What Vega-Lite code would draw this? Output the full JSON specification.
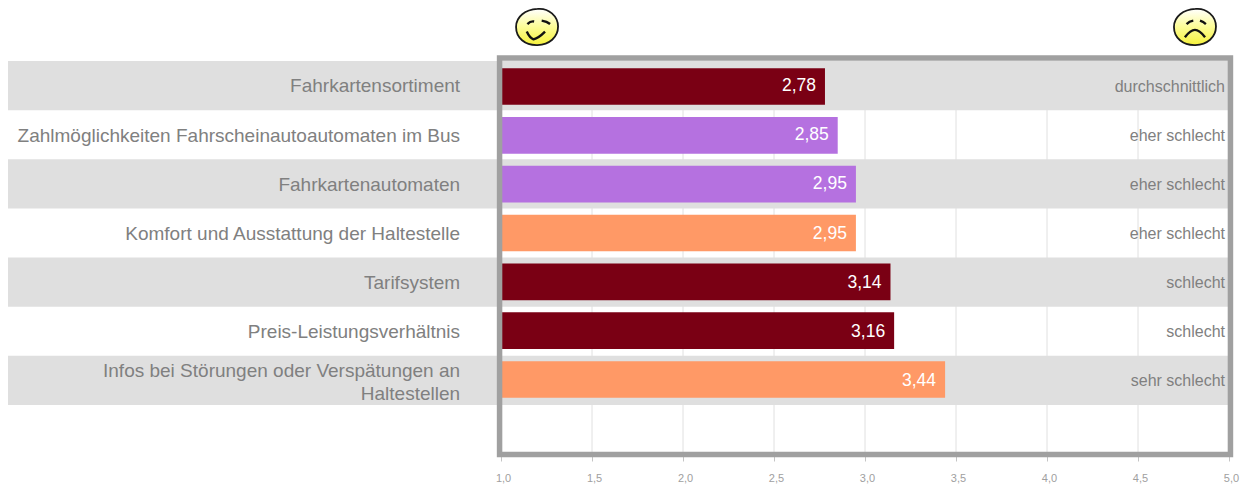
{
"$schema":"https://vega.github.io/schema/vega-lite/v6.json",
"width":1221,"height":442,
"autosize":{"type":"none"},
"padding":{"left":8,"top":12,"right":17,"bottom":32},
"background":"white",
"config":{"view":{"stroke":null},"font":"Liberation Sans","locale":{"number":{"decimal":",","thousands":".","grouping":[3],"currency":["","€"]}}},
"datasets":{
"rows":[
{"label":"Fahrkartensortiment","value":2.78,"group":"A","verdict":"durchschnittlich","striped":true,"lines":1},
{"label":"Zahlmöglichkeiten Fahrscheinautoautomaten im Bus","value":2.85,"group":"B","verdict":"eher schlecht","striped":false,"lines":1},
{"label":"Fahrkartenautomaten","value":2.95,"group":"B","verdict":"eher schlecht","striped":true,"lines":1},
{"label":"Komfort und Ausstattung der Haltestelle","value":2.95,"group":"C","verdict":"eher schlecht","striped":false,"lines":1},
{"label":"Tarifsystem","value":3.14,"group":"A","verdict":"schlecht","striped":true,"lines":1},
{"label":"Preis-Leistungsverhältnis","value":3.16,"group":"A","verdict":"schlecht","striped":false,"lines":1},
{"label":"Infos bei Störungen oder Verspätungen an\nHaltestellen","value":3.44,"group":"C","verdict":"sehr schlecht","striped":true,"lines":2}
],
"ticks":[{"tick":1},{"tick":1.5},{"tick":2},{"tick":2.5},{"tick":3},{"tick":3.5},{"tick":4},{"tick":4.5},{"tick":5}],
"faces":[{"mood":"gut","pos":1.198,"row":0.305},{"mood":"schlecht","pos":4.813,"row":0.305}]
},
"resolve":{"scale":{"y":"independent"}},
"layer":[
{"data":{"name":"ticks"},"mark":{"type":"rule","color":"#e0e0e0","strokeWidth":1},
 "encoding":{
  "x":{"field":"tick","type":"quantitative","title":null,
   "scale":{"domain":[-1.709,5],"nice":false,"zero":false},
   "axis":{"values":[1,1.5,2,2.5,3,3.5,4,4.5,5],"format":".1f","grid":false,"domain":false,"tickColor":"#c4c4c4","tickSize":7,"labelColor":"#a0a0a0","labelFontSize":11,"labelPadding":11,"labelOffset":2,"labelFont":"Liberation Sans","labelFlush":false,"labelOverlap":false}},
  "y":{"datum":1,"type":"quantitative","scale":{"domain":[0,9],"reverse":true,"nice":false,"zero":false},"axis":null},
  "y2":{"datum":9}
 }},
{"data":{"name":"rows"},"transform":[{"filter":"datum.striped"}],"mark":{"type":"rect","color":"#dfdfdf"},
 "encoding":{"y":{"field":"label","type":"nominal","axis":null,"sort":null,
   "scale":{"domain":[" ","Fahrkartensortiment","Zahlmöglichkeiten Fahrscheinautoautomaten im Bus","Fahrkartenautomaten","Komfort und Ausstattung der Haltestelle","Tarifsystem","Preis-Leistungsverhältnis","Infos bei Störungen oder Verspätungen an\nHaltestellen","  "],"paddingInner":0,"paddingOuter":0}},
  "x":{"datum":-1.709,"type":"quantitative","title":null},"x2":{"datum":5}}},
{"data":{"name":"rows"},"mark":{"type":"bar","size":36.7},
 "encoding":{"y":{"field":"label","type":"nominal","axis":null,"sort":null,
   "scale":{"domain":[" ","Fahrkartensortiment","Zahlmöglichkeiten Fahrscheinautoautomaten im Bus","Fahrkartenautomaten","Komfort und Ausstattung der Haltestelle","Tarifsystem","Preis-Leistungsverhältnis","Infos bei Störungen oder Verspätungen an\nHaltestellen","  "],"paddingInner":0,"paddingOuter":0.026}},
  "x":{"field":"value","type":"quantitative","title":null},"x2":{"datum":1},
  "color":{"field":"group","type":"nominal","legend":null,"scale":{"domain":["A","B","C"],"range":["#7a0014","#b571e0","#ff9966"]}}}},
{"data":{"name":"rows"},
 "encoding":{"y":{"field":"label","type":"nominal","axis":null,"sort":null,
   "scale":{"domain":[" ","Fahrkartensortiment","Zahlmöglichkeiten Fahrscheinautoautomaten im Bus","Fahrkartenautomaten","Komfort und Ausstattung der Haltestelle","Tarifsystem","Preis-Leistungsverhältnis","Infos bei Störungen oder Verspätungen an\nHaltestellen","  "],"paddingInner":0,"paddingOuter":0}}},
 "layer":[
 {"mark":{"type":"text","align":"right","baseline":"middle","dx":-9,"dy":0.5,"color":"white","fontSize":17.5,"font":"Liberation Sans"},
  "encoding":{"x":{"field":"value","type":"quantitative","title":null},"text":{"field":"value","type":"quantitative","format":".2f"}}},
 {"transform":[{"filter":"datum.lines===1"}],"mark":{"type":"text","align":"right","baseline":"middle","dy":0.8,"color":"#808080","fontSize":19,"font":"Liberation Sans"},
  "encoding":{"x":{"datum":0.775,"type":"quantitative","title":null},"text":{"field":"label"}}},
 {"transform":[{"filter":"datum.lines===2"}],"mark":{"type":"text","align":"right","baseline":"middle","dy":-9.8,"color":"#808080","fontSize":19,"lineBreak":"\n","lineHeight":23,"font":"Liberation Sans"},
  "encoding":{"x":{"datum":0.775,"type":"quantitative","title":null},"text":{"field":"label"}}},
 {"mark":{"type":"text","align":"right","baseline":"middle","dy":1,"color":"#808080","fontSize":16,"font":"Liberation Sans"},
  "encoding":{"x":{"datum":4.978,"type":"quantitative","title":null},"text":{"field":"verdict"}}}
 ]},
{"data":{"values":[{"left":0.992,"right":5.008,"top":0.937,"bottom":9.01}]},
 "mark":{"type":"rect","fill":null,"fillOpacity":0,"stroke":"#a0a0a0","strokeWidth":5.5},
 "encoding":{"x":{"field":"left","type":"quantitative","title":null},"x2":{"field":"right"},
  "y":{"field":"top","type":"quantitative","axis":null,"scale":{"domain":[0,9],"reverse":true,"nice":false,"zero":false}},"y2":{"field":"bottom"}}},
{"data":{"name":"faces"},
 "layer":[
 {"mark":{"type":"point","filled":true,"size":1764,"opacity":1,"shape":"M0.02,-0.86 C0.55,-0.92 1,-0.52 1,-0.02 C1,0.5 0.58,0.84 0.02,0.86 C-0.58,0.88 -1,0.52 -1,0 C-1,-0.52 -0.55,-0.82 0.02,-0.86Z",
   "fill":{"x1":0,"y1":0,"x2":0,"y2":1,"gradient":"linear","stops":[{"offset":0,"color":"#ffffff"},{"offset":0.45,"color":"#fdfda0"},{"offset":1,"color":"#f6f23c"}]},
   "stroke":"#1a1a1a","strokeWidth":1.8},
  "encoding":{"x":{"field":"pos","type":"quantitative","title":null},
   "y":{"field":"row","type":"quantitative","axis":null,"scale":{"domain":[0,9],"reverse":true,"nice":false,"zero":false}}}},
 {"transform":[{"filter":"datum.mood==='gut'"}],
  "mark":{"type":"point","filled":false,"size":1764,"opacity":1,"stroke":"#111111","strokeWidth":2.4,"fill":null,"shape":"M-0.46,-0.14 C-0.36,-0.24 -0.25,-0.28 -0.14,-0.26 M0.22,-0.3 C0.35,-0.28 0.5,-0.24 0.62,-0.14 M-0.49,0.22 C-0.4,0.42 -0.28,0.55 -0.17,0.59 C0,0.55 0.22,0.38 0.38,0.22"},
  "encoding":{"x":{"field":"pos","type":"quantitative","title":null},
   "y":{"field":"row","type":"quantitative","axis":null,"scale":{"domain":[0,9],"reverse":true,"nice":false,"zero":false}}}},
 {"transform":[{"filter":"datum.mood==='schlecht'"}],
  "mark":{"type":"point","filled":false,"size":1764,"opacity":1,"stroke":"#111111","strokeWidth":2.4,"fill":null,"shape":"M-0.4,-0.14 C-0.3,-0.24 -0.2,-0.28 -0.08,-0.3 M0.24,-0.3 C0.35,-0.26 0.45,-0.2 0.52,-0.14 M-0.48,0.49 C-0.32,0.28 -0.14,0.14 0,0.14 C0.14,0.14 0.32,0.28 0.48,0.49"},
  "encoding":{"x":{"field":"pos","type":"quantitative","title":null},
   "y":{"field":"row","type":"quantitative","axis":null,"scale":{"domain":[0,9],"reverse":true,"nice":false,"zero":false}}}}
 ]}
]
}
